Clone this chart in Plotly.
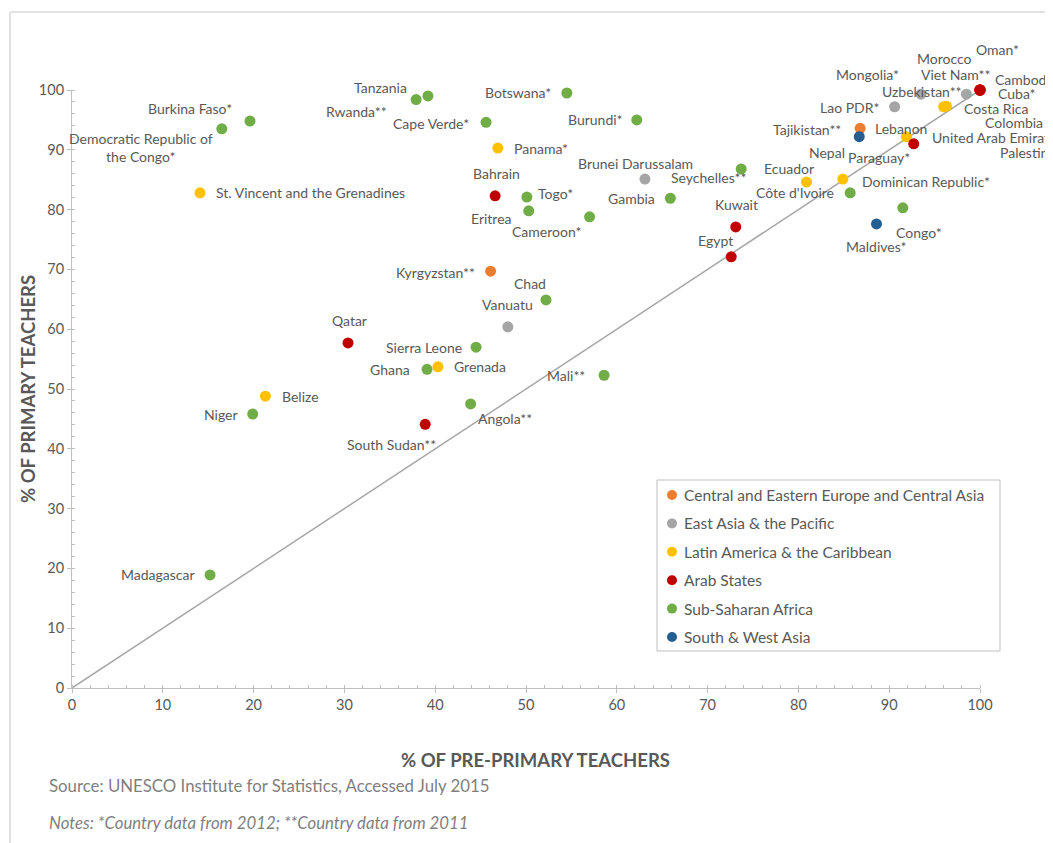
import plotly.graph_objects as go

# ---------------- data ----------------
countries = [
    "Burkina Faso*", "Democratic Republic of<br>the Congo*", "St. Vincent and the Grenadines",
    "Tanzania", "Rwanda**", "Cape Verde*", "Botswana*", "Burundi*", "Panama*",
    "Brunei Darussalam", "Bahrain", "Togo*", "Seychelles**", "Gambia", "Eritrea",
    "Cameroon*", "Kuwait", "Egypt", "Kyrgyzstan**", "Chad", "Vanuatu", "Qatar",
    "Sierra Leone", "Ghana", "Grenada", "Mali**", "Belize", "Niger", "Angola**",
    "South Sudan**", "Madagascar",
    "Oman*", "Morocco", "Cambodia", "Viet Nam**", "Mongolia*", "Uzbekistan**", "Cuba*",
    "Lao PDR*", "Costa Rica", "Colombia", "Tajikistan**", "Lebanon", "United Arab Emirates",
    "Palestine", "Nepal", "Paraguay*", "Ecuador", "Dominican Republic*", "Côte d'Ivoire",
    "Congo*", "Maldives*",
]
regions = [
    "SSA", "SSA", "LAC",
    "SSA", "SSA", "SSA", "SSA", "SSA", "LAC",
    "EAP", "ARAB", "SSA", "SSA", "SSA", "SSA",
    "SSA", "ARAB", "ARAB", "CEE", "SSA", "EAP", "ARAB",
    "SSA", "SSA", "LAC", "SSA", "LAC", "SSA", "SSA",
    "ARAB", "SSA",
    "ARAB", "ARAB", "EAP", "EAP", "EAP", "CEE", "LAC",
    "EAP", "LAC", "LAC", "CEE", "ARAB", "ARAB",
    "ARAB", "SWA", "LAC", "LAC", "LAC", "SSA",
    "SSA", "SWA",
]
pre_primary = [
    19.6, 16.5, 14.1,
    39.2, 37.9, 45.6, 54.5, 62.2, 46.9,
    63.1, 46.6, 50.1, 73.7, 65.9, 50.3,
    57.0, 73.1, 72.6, 46.1, 52.2, 48.0, 30.4,
    44.5, 39.1, 40.3, 58.6, 21.3, 19.9, 43.9,
    38.9, 15.2,
    100.0, 100.0, 100.0, 98.5, 93.5, 100.0, 100.0,
    90.6, 96.0, 96.3, 86.8, 100.0, 92.7,
    100.0, 86.7, 91.9, 80.9, 84.9, 85.7,
    91.5, 88.6,
]
primary = [
    94.8, 93.5, 82.8,
    99.0, 98.4, 94.6, 99.5, 95.0, 90.3,
    85.1, 82.3, 82.1, 86.8, 81.9, 79.8,
    78.8, 77.1, 72.1, 69.7, 64.9, 60.4, 57.7,
    57.0, 53.3, 53.7, 52.3, 48.8, 45.8, 47.5,
    44.1, 18.9,
    100.0, 100.0, 100.0, 99.3, 99.3, 100.0, 100.0,
    97.2, 97.2, 97.3, 93.6, 100.0, 91.0,
    100.0, 92.2, 92.2, 84.6, 85.1, 82.8,
    80.3, 77.6,
]

region_order = ["CEE", "EAP", "LAC", "ARAB", "SSA", "SWA"]
region_names = {
    "CEE": "Central and Eastern Europe and Central Asia",
    "EAP": "East Asia & the Pacific",
    "LAC": "Latin America & the Caribbean",
    "ARAB": "Arab States",
    "SSA": "Sub-Saharan Africa",
    "SWA": "South & West Asia",
}
region_colors = {
    "CEE": "#ED7D31", "EAP": "#A5A5A5", "LAC": "#FFC000",
    "ARAB": "#C00000", "SSA": "#70AD47", "SWA": "#255E91",
}

x_ticks = [0, 10, 20, 30, 40, 50, 60, 70, 80, 90, 100]
y_ticks = [0, 10, 20, 30, 40, 50, 60, 70, 80, 90, 100]

# label placement (pixel offsets from the point; anchor)
label_pos = {
    "Burkina Faso*": (-60, 13, "center"),
    "Democratic Republic of<br>the Congo*": (-81, -19, "center"),
    "St. Vincent and the Grenadines": (110, 0, "center"),
    "Tanzania": (-47, 8, "center"),
    "Rwanda**": (-60, -12, "center"),
    "Cape Verde*": (-55, -1, "center"),
    "Botswana*": (-49, 0, "center"),
    "Burundi*": (-41, 0, "center"),
    "Panama*": (43, 0, "center"),
    "Brunei Darussalam": (-9, 16, "center"),
    "Bahrain": (1, 22, "center"),
    "Togo*": (29, 4, "center"),
    "Seychelles**": (-32, -9, "center"),
    "Gambia": (-39, 0, "center"),
    "Eritrea": (-37, -8, "center"),
    "Cameroon*": (-43, -15, "center"),
    "Kuwait": (1, 22, "center"),
    "Egypt": (-16, 16, "center"),
    "Kyrgyzstan**": (-55, -1, "center"),
    "Chad": (-16, 16, "center"),
    "Vanuatu": (0, 22, "center"),
    "Qatar": (1, 22, "center"),
    "Sierra Leone": (-52, 0, "center"),
    "Ghana": (-37, 0, "center"),
    "Grenada": (42, 0, "center"),
    "Mali**": (-38, 0, "center"),
    "Belize": (35, 0, "center"),
    "Niger": (-32, 0, "center"),
    "Angola**": (34, -15, "center"),
    "South Sudan**": (-34, -20, "center"),
    "Madagascar": (-52, 0, "center"),
    "Oman*": (17, 41, "center"),
    "Morocco": (-36, 32, "center"),
    "Cambodia": (13, 11, "left"),
    "Viet Nam**": (-11, 20, "center"),
    "Mongolia*": (-53, 20, "center"),
    "Uzbekistan**": (-58, -1, "center"),
    "Cuba*": (16, -3, "left"),
    "Lao PDR*": (-45, -1, "center"),
    "Costa Rica": (18, -2, "left"),
    "Colombia": (37, -16, "left"),
    "Tajikistan**": (-17, -1, "right"),
    "Lebanon": (-79, -38, "center"),
    "United Arab Emirates": (16, 6, "left"),
    "Palestine": (18, -62, "left"),
    "Nepal": (-12, -16, "right"),
    "Paraguay*": (-27, -21, "center"),
    "Ecuador": (-18, 14, "center"),
    "Dominican Republic*": (17, -2, "left"),
    "Côte d'Ivoire": (-55, 0, "center"),
    "Congo*": (16, -25, "center"),
    "Maldives*": (0, -23, "center"),
}

FONT = "Lato, 'Open Sans', sans-serif"
TXT = "#595959"
AXC = "#BFBFBF"

# page-pixel helpers (plot area: x 72..980, y 90..688 in page pixels)
def px(p):
    return (p - 72) / 908.0

def py(p):
    return (688 - p) / 598.0

fig = go.Figure()

# diagonal parity line
fig.add_trace(go.Scatter(x=[0, 100], y=[0, 100], mode="lines",
                         line=dict(color="#A6A6A6", width=1.5),
                         showlegend=False, hoverinfo="skip"))

for r in region_order:
    xs = [x for x, rr in zip(pre_primary, regions) if rr == r]
    ys = [y for y, rr in zip(primary, regions) if rr == r]
    ns = [n for n, rr in zip(countries, regions) if rr == r]
    fig.add_trace(go.Scatter(
        x=xs, y=ys, mode="markers", name=region_names[r], text=ns,
        showlegend=False,
        marker=dict(color=region_colors[r], size=11, line=dict(width=0)),
        cliponaxis=False,
    ))

annotations = []
for n, x, y in zip(countries, pre_primary, primary):
    dx, dy, anc = label_pos[n]
    annotations.append(dict(
        x=x, y=y, xref="x", yref="y", text=n, showarrow=False,
        xshift=dx, yshift=dy, xanchor=anc, yanchor="middle", align="center",
        font=dict(family=FONT, size=14, color=TXT),
    ))

# axis titles and notes
annotations.append(dict(x=px(535), y=py(760), xref="paper", yref="paper",
                        text="<b>% OF PRE-PRIMARY TEACHERS</b>", showarrow=False,
                        xanchor="center", yanchor="middle",
                        font=dict(family=FONT, size=18.5, color=TXT)))
annotations.append(dict(x=px(28), y=py(389), xref="paper", yref="paper",
                        text="<b>% OF PRIMARY TEACHERS</b>", showarrow=False, textangle=-90,
                        xanchor="center", yanchor="middle",
                        font=dict(family=FONT, size=18.5, color=TXT)))
annotations.append(dict(x=px(47), y=py(785), xref="paper", yref="paper",
                        text="Source: UNESCO Institute for Statistics, Accessed July 2015",
                        showarrow=False, xanchor="left", yanchor="middle",
                        font=dict(family=FONT, size=16.8, color="#7F7F7F")))
annotations.append(dict(x=px(47), y=py(822), xref="paper", yref="paper",
                        text="<i>Notes: *Country data from 2012; **Country data from 2011</i>",
                        showarrow=False, xanchor="left", yanchor="middle",
                        font=dict(family=FONT, size=16.8, color="#7F7F7F")))

# chart frame and manual legend
shapes = [
    dict(type="line", xref="paper", yref="paper",
         x0=px(10), x1=px(1070), y0=py(12), y1=py(12),
         line=dict(color="#D9D9D9", width=1.5)),
    dict(type="line", xref="paper", yref="paper",
         x0=px(10), x1=px(10), y0=py(12), y1=py(860),
         line=dict(color="#D9D9D9", width=1.5)),
    dict(type="rect", xref="paper", yref="paper",
         x0=px(657), x1=px(1000), y0=py(480), y1=py(651),
         line=dict(color=AXC, width=1), fillcolor="white", layer="below"),
]
leg_y0, leg_step = 495, 28.4
for i, r in enumerate(region_order):
    cy = leg_y0 + i * leg_step
    shapes.append(dict(type="circle", xref="paper", yref="paper",
                       xsizemode="pixel", ysizemode="pixel",
                       xanchor=px(672), yanchor=py(cy),
                       x0=-5, x1=5, y0=-5, y1=5,
                       fillcolor=region_colors[r], line=dict(width=0)))
    annotations.append(dict(x=px(682), y=py(cy), xref="paper", yref="paper",
                            text=region_names[r], showarrow=False,
                            xanchor="left", yanchor="middle",
                            font=dict(family=FONT, size=15.5, color=TXT)))

axis_common = dict(
    range=[0, 100], showgrid=False, zeroline=False, showline=True,
    linecolor=AXC, linewidth=1, ticks="outside", ticklen=4, tickcolor=AXC,
    tickfont=dict(family=FONT, size=14.5, color=TXT),
    minor=dict(dtick=2, ticks="inside", ticklen=3, tickcolor=AXC),
)
# overlay axes supplying the inner half of the crossing major ticks
cross_common = dict(
    range=[0, 100], showgrid=False, zeroline=False, showline=False,
    ticks="inside", ticklen=4, tickcolor=AXC, showticklabels=False,
)

fig.update_layout(
    width=1045, height=835,
    margin=dict(l=64, r=73, t=82, b=155),
    paper_bgcolor="white", plot_bgcolor="rgba(0,0,0,0)",
    xaxis=dict(tickvals=x_ticks, **axis_common),
    yaxis=dict(tickvals=y_ticks, **axis_common),
    xaxis2=dict(tickvals=x_ticks, overlaying="x", anchor="y", side="bottom", **cross_common),
    yaxis2=dict(tickvals=y_ticks, overlaying="y", anchor="x", side="left", **cross_common),
    annotations=annotations,
    shapes=shapes,
    showlegend=False,
)

fig.write_html("out.html")
